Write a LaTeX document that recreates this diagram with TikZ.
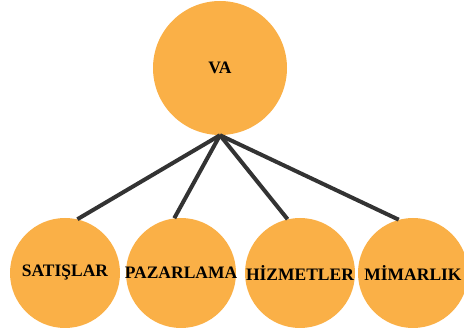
\documentclass[tikz,border=0pt]{standalone}
\usepackage{fontspec}
\setmainfont{Liberation Serif}
\definecolor{bubbleorange}{HTML}{FAB047}
\definecolor{wiregray}{HTML}{333333}
\begin{document}
\begin{tikzpicture}[
		x=1pt, y=-1pt,
		bubble/.style={circle, fill=bubbleorange, inner sep=0pt},
		head/.style={bubble, minimum size=134pt},
		leaf/.style={bubble, minimum size=110pt},
		tag/.style={font=\fontsize{17.5}{19}\selectfont\bfseries, text=black},
		wire/.style={draw=wiregray, line width=4pt}
		]
		\useasboundingbox (0,0) rectangle (464,331);
		
		% ---------------------------------------------------------
		% Top: VA
		% ---------------------------------------------------------
		\node[head, label={[tag]center:VA}] (va) at (220,68) {};
		
		% ---------------------------------------------------------
		% Bottom row: departments
		% ---------------------------------------------------------
		\node[leaf, label={[tag]center:SATIŞLAR}] (sat) at (65,273) {};
		\node[leaf, label={[tag]center:PAZARLAMA}] (paz) at (181,273) {};
		\node[leaf, label={[tag]center:HİZMETLER}] (hiz) at (300,273) {};
		\node[leaf, label={[tag]center:MİMARLIK}] (mim) at (413,273) {};
		
		% Connectors from VA to each department
		\foreach \n/\a in {sat/77, paz/97, hiz/103, mim/105} {
			\draw[wire] (va.south) -- (\n.\a);
		}
		
	\end{tikzpicture}
\end{document}
